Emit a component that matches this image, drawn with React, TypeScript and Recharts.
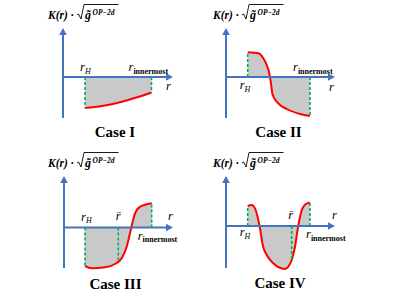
import React from 'react';
import { ComposedChart, Area, XAxis, YAxis, ReferenceLine, ReferenceDot } from 'recharts';

const AXIS_BLUE = '#4472C4';
const CURVE_RED = '#FF0000';
const FILL_GRAY = '#C9C9C9';
const DASH_GREEN = '#00B050';
const SERIF = '"Liberation Serif", "Times New Roman", serif';

// Case I
const caseIR = [22, 30, 42, 58, 75, 88.5];
const caseIK = [-31, -30.3, -28.5, -25, -20, -15.5];
// Case II
const caseIIR = [21.7, 32.3, 37.3, 40.7, 43.3, 44.7, 46.7, 52.3, 60.7, 74, 84];
const caseIIK = [24.7, 23.7, 18.7, 12, 3.7, -4.7, -18, -26.3, -32, -37, -39];
// Case III
const caseIIIR = [21, 27.7, 41, 51, 57.7, 62.7, 66, 68.3, 71, 76, 82.7, 87.7];
const caseIIIK = [-38.5, -40.8, -39.8, -36.5, -30.8, -19.2, -5.8, 4.2, 14.2, 20.8, 23.2, 24.2];
// Case IV
const caseIVR = [21.7, 25.7, 29.7, 32.3, 34, 36.7, 40.7, 47.3, 59, 62.3, 65.7, 69, 71.3, 74, 77.3, 81.3, 84];
const caseIVK = [20, 21, 16, 6, -2.3, -19, -29, -37.3, -43, -40.7, -34, -20.7, -5.7, 9.3, 19.3, 22.7, 23.3];

// r-bar positions and the curve value there
const rBarIII = 54.3;
const rBarKIII = -34;
const rBarIV = 65.7;
const rBarKIV = -34;

const caseNames = ['Case I', 'Case II', 'Case III', 'Case IV'];

type Pt = { r: number; k: number };
const zip = (rs: number[], ks: number[]): Pt[] => rs.map((r, i) => ({ r, k: ks[i] }));

type Off = [number, number];
type PanelCfg = {
  name: string;
  r: number[];
  k: number[];
  rBar?: number;
  rBarK?: number;
  left: number;
  top: number;
  width: number;
  height: number;
  ox: number;
  oy: number;
  xEnd: number;
  yTop: number;
  yBottom: number;
  rHOff: Off;
  rInOff: Off;
  rBarOff?: Off;
  rAxisOff: Off;
  titleOff: Off;
  caseX: number;
  caseDy: number;
};

const panels: PanelCfg[] = [
  {
    name: caseNames[0], r: caseIR, k: caseIK,
    left: 0, top: 0, width: 196, height: 149, ox: 63, oy: 77,
    xEnd: 110, yTop: 49, yBottom: -41,
    rHOff: [-5, -6], rInOff: [-23, -6], rAxisOff: [-7, 13], titleOff: [-15, -9],
    caseX: 52, caseDy: 59.5,
  },
  {
    name: caseNames[1], r: caseIIR, k: caseIIK,
    left: 196, top: 0, width: 197, height: 149, ox: 30, oy: 77,
    xEnd: 109, yTop: 49, yBottom: -41,
    rHOff: [-8, 12], rInOff: [-17, -6], rAxisOff: [-6, 14], titleOff: [-13, -9],
    caseX: 52.5, caseDy: 59.5,
  },
  {
    name: caseNames[2], r: caseIIIR, k: caseIIIK, rBar: rBarIII, rBarK: rBarKIII,
    left: 0, top: 149, width: 196, height: 149, ox: 64, oy: 78.5,
    xEnd: 109, yTop: 51.5, yBottom: -40.5,
    rHOff: [-4, -7], rInOff: [-14, 12], rBarOff: [0, -8], rAxisOff: [-5, -8], titleOff: [-16, -9],
    caseX: 51.5, caseDy: 61,
  },
  {
    name: caseNames[3], r: caseIVR, k: caseIVK, rBar: rBarIV, rBarK: rBarKIV,
    left: 196, top: 149, width: 197, height: 149, ox: 30, oy: 77,
    xEnd: 109, yTop: 50, yBottom: -42,
    rHOff: [-8, 10], rInOff: [-4, 12], rBarOff: [-1, -7], rAxisOff: [-3, -7], titleOff: [-13, -9],
    caseX: 54, caseDy: 62,
  },
];

const ArrowLine = (props: any) => {
  const { x1, y1, x2, y2 } = props;
  const dx = x2 - x1;
  const dy = y2 - y1;
  const len = Math.hypot(dx, dy) || 1;
  const ux = dx / len;
  const uy = dy / len;
  const L = 7;
  const W = 3.8;
  const bx = x2 - ux * L;
  const by = y2 - uy * L;
  const px = -uy;
  const py = ux;
  return (
    <g>
      <line x1={x1} y1={y1} x2={bx + ux} y2={by + uy} stroke={AXIS_BLUE} strokeWidth={2} />
      <polygon
        points={`${x2},${y2} ${bx + px * W},${by + py * W} ${bx - px * W},${by - py * W}`}
        fill={AXIS_BLUE}
      />
    </g>
  );
};

const DashLine = (props: any) => {
  const { x1, y1, x2, y2 } = props;
  return <line x1={x1} y1={y1} x2={x2} y2={y2} stroke={DASH_GREEN} strokeWidth={1.6} strokeDasharray="3 2" />;
};

const RLabel = ({ x, y, sub, bar, bold }: any) => (
  <text x={x} y={y} fontFamily={SERIF} fontSize={12.5} fontStyle="italic" fill="#000">
    {bar ? 'r\u0304' : 'r'}
    {sub ? (
      <tspan fontSize={8} dy={2.5} fontStyle={bold ? 'normal' : 'italic'} fontWeight={bold ? 'bold' : 'normal'}>
        {sub}
      </tspan>
    ) : null}
  </text>
);

const Title = ({ x, y }: any) => (
  <g fill="#000">
    <text x={x} y={y} fontFamily={SERIF} fontSize={11.5} fontWeight="bold" fontStyle="italic">
      K(r) ·
    </text>
    <path
      d={`M${x + 29},${y - 4} l1.6,-1 l2.4,5 l3,-14.5 h34.5`}
      stroke="#000"
      fill="none"
      strokeWidth={0.9}
    />
    <text x={x + 37} y={y} fontFamily={SERIF} fontSize={12} fontWeight="bold" fontStyle="italic">
      {'g\u0303'}
    </text>
    <text x={x + 44.5} y={y - 4} fontFamily={SERIF} fontSize={7.5} fontWeight="bold" fontStyle="italic">
      OP−2d
    </text>
  </g>
);

const anchorShape = (render: (cx: number, cy: number) => React.ReactElement) => (p: any) =>
  render(p.cx, p.cy);

const Panel = ({ cfg }: { cfg: PanelCfg }) => {
  const data = zip(cfg.r, cfg.k);
  const rH = cfg.r[0];
  const rIn = cfg.r[cfg.r.length - 1];
  const kH = cfg.k[0];
  const kIn = cfg.k[cfg.k.length - 1];
  const xDomain = [-cfg.ox, cfg.width - cfg.ox];
  const yDomain = [cfg.oy - cfg.height, cfg.oy];
  return (
    <div style={{ position: 'absolute', left: cfg.left, top: cfg.top, width: cfg.width, height: cfg.height }}>
      <ComposedChart
        width={cfg.width}
        height={cfg.height}
        data={data}
        margin={{ top: 0, right: 0, bottom: 0, left: 0 }}
      >
        <XAxis dataKey="r" type="number" domain={xDomain} allowDataOverflow hide />
        <YAxis type="number" domain={yDomain} allowDataOverflow hide />
        <Area
          dataKey="k"
          type="monotone"
          baseValue={0}
          stroke="none"
          fill={FILL_GRAY}
          fillOpacity={1}
          dot={false}
          activeDot={false}
          isAnimationActive={false}
        />
        <ReferenceLine segment={[{ x: 0, y: 0 }, { x: cfg.xEnd, y: 0 }]} shape={ArrowLine} ifOverflow="visible" />
        <ReferenceLine segment={[{ x: 0, y: cfg.yBottom }, { x: 0, y: cfg.yTop }]} shape={ArrowLine} ifOverflow="visible" />
        <ReferenceLine segment={[{ x: rH, y: 0 }, { x: rH, y: kH }]} shape={DashLine} ifOverflow="visible" />
        <ReferenceLine segment={[{ x: rIn, y: 0 }, { x: rIn, y: kIn }]} shape={DashLine} ifOverflow="visible" />
        {cfg.rBar !== undefined ? (
          <ReferenceLine
            segment={[{ x: cfg.rBar, y: 0 }, { x: cfg.rBar, y: cfg.rBarK as number }]}
            shape={DashLine}
            ifOverflow="visible"
          />
        ) : null}
        <Area
          dataKey="k"
          type="monotone"
          baseValue={0}
          stroke={CURVE_RED}
          strokeWidth={2}
          fill="none"
          dot={false}
          activeDot={false}
          isAnimationActive={false}
        />
        <ReferenceDot
          x={rH}
          y={0}
          ifOverflow="visible"
          shape={anchorShape((cx, cy) => (
            <RLabel x={cx + cfg.rHOff[0]} y={cy + cfg.rHOff[1]} sub="H" />
          ))}
        />
        <ReferenceDot
          x={rIn}
          y={0}
          ifOverflow="visible"
          shape={anchorShape((cx, cy) => (
            <RLabel x={cx + cfg.rInOff[0]} y={cy + cfg.rInOff[1]} sub="innermost" bold />
          ))}
        />
        {cfg.rBar !== undefined && cfg.rBarOff ? (
          <ReferenceDot
            x={cfg.rBar}
            y={0}
            ifOverflow="visible"
            shape={anchorShape((cx, cy) => (
              <text
                x={cx + (cfg.rBarOff as Off)[0]}
                y={cy + (cfg.rBarOff as Off)[1]}
                textAnchor="middle"
                fontFamily={SERIF}
                fontSize={12.5}
                fontStyle="italic"
              >
                {'r\u0304'}
              </text>
            ))}
          />
        ) : null}
        <ReferenceDot
          x={cfg.xEnd}
          y={0}
          ifOverflow="visible"
          shape={anchorShape((cx, cy) => (
            <RLabel x={cx + cfg.rAxisOff[0]} y={cy + cfg.rAxisOff[1]} />
          ))}
        />
        <ReferenceDot
          x={0}
          y={cfg.yTop}
          ifOverflow="visible"
          shape={anchorShape((cx, cy) => <Title x={cx + cfg.titleOff[0]} y={cy + cfg.titleOff[1]} />)}
        />
        <ReferenceDot
          x={cfg.caseX}
          y={0}
          ifOverflow="visible"
          shape={anchorShape((cx, cy) => (
            <text
              x={cx}
              y={cy + cfg.caseDy}
              textAnchor="middle"
              fontFamily={SERIF}
              fontSize={15}
              fontWeight="bold"
              fill="#000"
            >
              {cfg.name}
            </text>
          ))}
        />
      </ComposedChart>
    </div>
  );
}

export default function App() {
  return (
    <div style={{ position: 'fixed', left: 0, top: 0, width: 393, height: 298, background: '#fff', overflow: 'hidden' }}>
      {panels.map((p) => (
        <Panel key={p.name} cfg={p} />
      ))}
    </div>
  );
}
